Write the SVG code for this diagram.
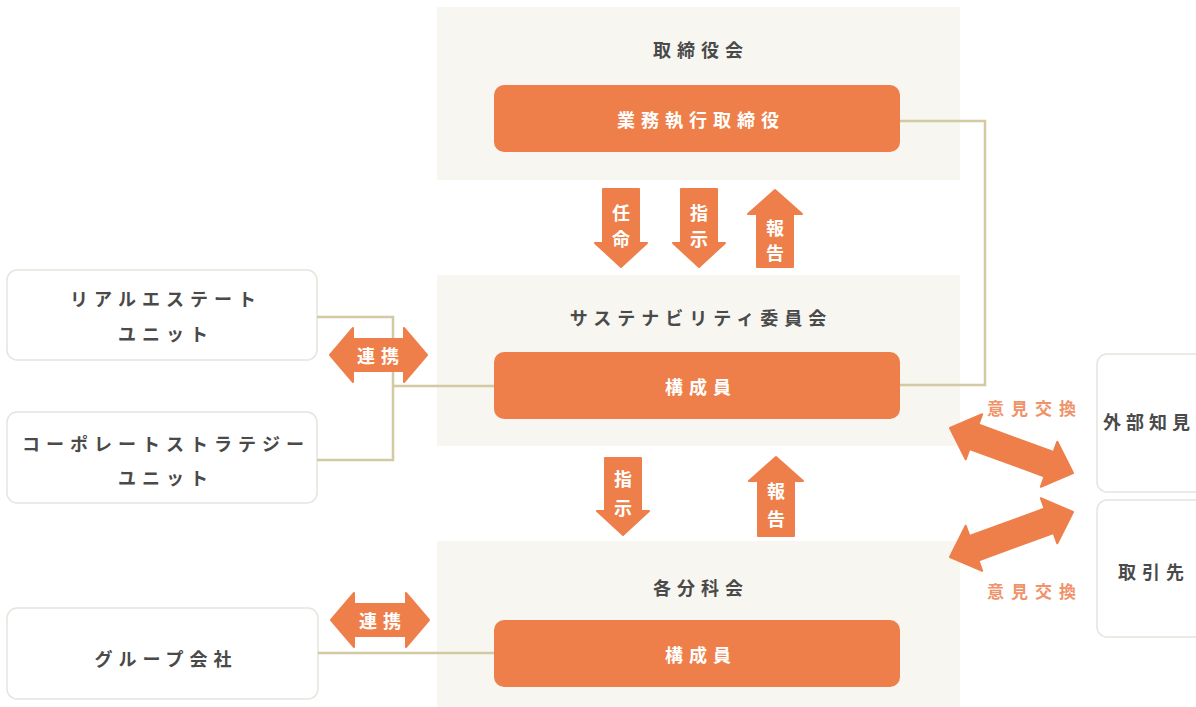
<svg xmlns="http://www.w3.org/2000/svg" width="1196" height="707" viewBox="0 0 1196 707">
<style>
.panel{fill:#f7f6f1}
.obox{fill:#ee7f4a}
.wbox{fill:#ffffff;stroke:#e6e4dc;stroke-width:1.5}
.t{font-family:"Noto Sans CJK JP","Noto Sans",sans-serif;font-weight:700;font-size:18px;letter-spacing:6px;text-anchor:middle;dominant-baseline:central}
.dark{fill:#4a4a4a}
.white{fill:#ffffff}
.lbl{fill:#f0926a;font-size:17px;letter-spacing:7px}
.arr{fill:#ee7f4a;stroke:#ee7f4a;stroke-width:2;stroke-linejoin:round}
.con{fill:none;stroke:#d3caa3;stroke-width:2.5}
</style>
<rect width="1196" height="707" fill="#ffffff"/>

<g id="board">
<rect class="panel" x="437" y="7" width="523" height="173"/>
<text class="t dark" x="701" y="49">取締役会</text>
<rect class="obox" x="494" y="85" width="406" height="67" rx="10"/>
<text class="t white" x="701" y="119">業務執行取締役</text>
</g>

<g id="committee">
<rect class="panel" x="437" y="275" width="523" height="171"/>
<text class="t dark" x="701" y="317">サステナビリティ委員会</text>
<rect class="obox" x="494" y="352" width="406" height="67" rx="10"/>
<text class="t white" x="701" y="386">構成員</text>
</g>

<g id="subcommittee">
<rect class="panel" x="437" y="541" width="523" height="166"/>
<text class="t dark" x="701" y="587">各分科会</text>
<rect class="obox" x="494" y="620" width="406" height="67" rx="10"/>
<text class="t white" x="701" y="654">構成員</text>
</g>

<g id="realestate">
<rect class="wbox" x="7" y="270" width="310" height="90" rx="10"/>
<text class="t dark" x="166" y="298">リアルエステート</text>
<text class="t dark" x="166" y="333">ユニット</text>
</g>

<g id="corporate">
<rect class="wbox" x="7" y="412" width="310" height="91" rx="10"/>
<text class="t dark" x="166" y="443">コーポレートストラテジー</text>
<text class="t dark" x="166" y="477">ユニット</text>
</g>

<g id="group">
<rect class="wbox" x="7" y="608" width="311" height="91" rx="10"/>
<text class="t dark" x="166" y="658">グループ会社</text>
</g>

<g id="experts">
<rect class="wbox" x="1097" y="354" width="120" height="138" rx="10"/>
<text class="t dark" x="1103" y="421" style="text-anchor:start;letter-spacing:5px">外部知見</text>
</g>

<g id="partners">
<rect class="wbox" x="1097" y="500" width="120" height="137" rx="10"/>
<text class="t dark" x="1154" y="571">取引先</text>
</g>

<g id="connectors">
<path class="con" d="M900 121 H985 V385 H900"/>
<path class="con" d="M317 317 H393 V460 H317"/>
<path class="con" d="M393 386 H494"/>
<path class="con" d="M318 653 H494"/>
</g>

<g id="arrows">
<g id="a-ninmei">
<path class="arr" d="M603 189 H639 V243 H647 L621 267 L595 243 H603 Z"/>
<text class="t white" x="624" y="212">任</text>
<text class="t white" x="624" y="238">命</text>
</g>
<g id="a-shiji1">
<path class="arr" d="M681 189 H717 V243 H725 L699 267 L673 243 H681 Z"/>
<text class="t white" x="702" y="212">指</text>
<text class="t white" x="702" y="238">示</text>
</g>
<g id="a-houkoku1">
<path class="arr" d="M757 267 H793 V214 H802 L775 190 L748 214 H757 Z"/>
<text class="t white" x="778" y="227">報</text>
<text class="t white" x="778" y="252">告</text>
</g>
<g id="a-shiji2">
<path class="arr" d="M605 458 H641 V511 H649 L623 535 L597 511 H605 Z"/>
<text class="t white" x="626" y="478">指</text>
<text class="t white" x="626" y="507">示</text>
</g>
<g id="a-houkoku2">
<path class="arr" d="M758 536 H794 V481 H803 L776 457 L749 481 H758 Z"/>
<text class="t white" x="779" y="490">報</text>
<text class="t white" x="779" y="518">告</text>
</g>
<g id="a-renkei1">
<path class="arr" d="M330 355 L353 328 L353 339 L404 339 L404 328 L427 355 L404 382 L404 371 L353 371 L353 382 Z"/>
<text class="t white" x="381" y="355">連携</text>
</g>
<g id="a-renkei2">
<path class="arr" d="M331 620 L354 593 L354 604 L406 604 L406 593 L429 620 L406 647 L406 636 L354 636 L354 647 Z"/>
<text class="t white" x="383" y="620">連携</text>
</g>
<g id="a-iken1">
<path class="arr" transform="translate(1011.5 450.5) rotate(20.1)" d="M-65.5 0 L-40 -24 L-40 -13 L40 -13 L40 -24 L65.5 0 L40 24 L40 13 L-40 13 L-40 24 Z"/>
<text class="t lbl" x="1035" y="407">意見交換</text>
</g>
<g id="a-iken2">
<path class="arr" transform="translate(1011.5 534.5) rotate(-20.1)" d="M-65.5 0 L-40 -24 L-40 -13 L40 -13 L40 -24 L65.5 0 L40 24 L40 13 L-40 13 L-40 24 Z"/>
<text class="t lbl" x="1035" y="590">意見交換</text>
</g>
</g>
</svg>
